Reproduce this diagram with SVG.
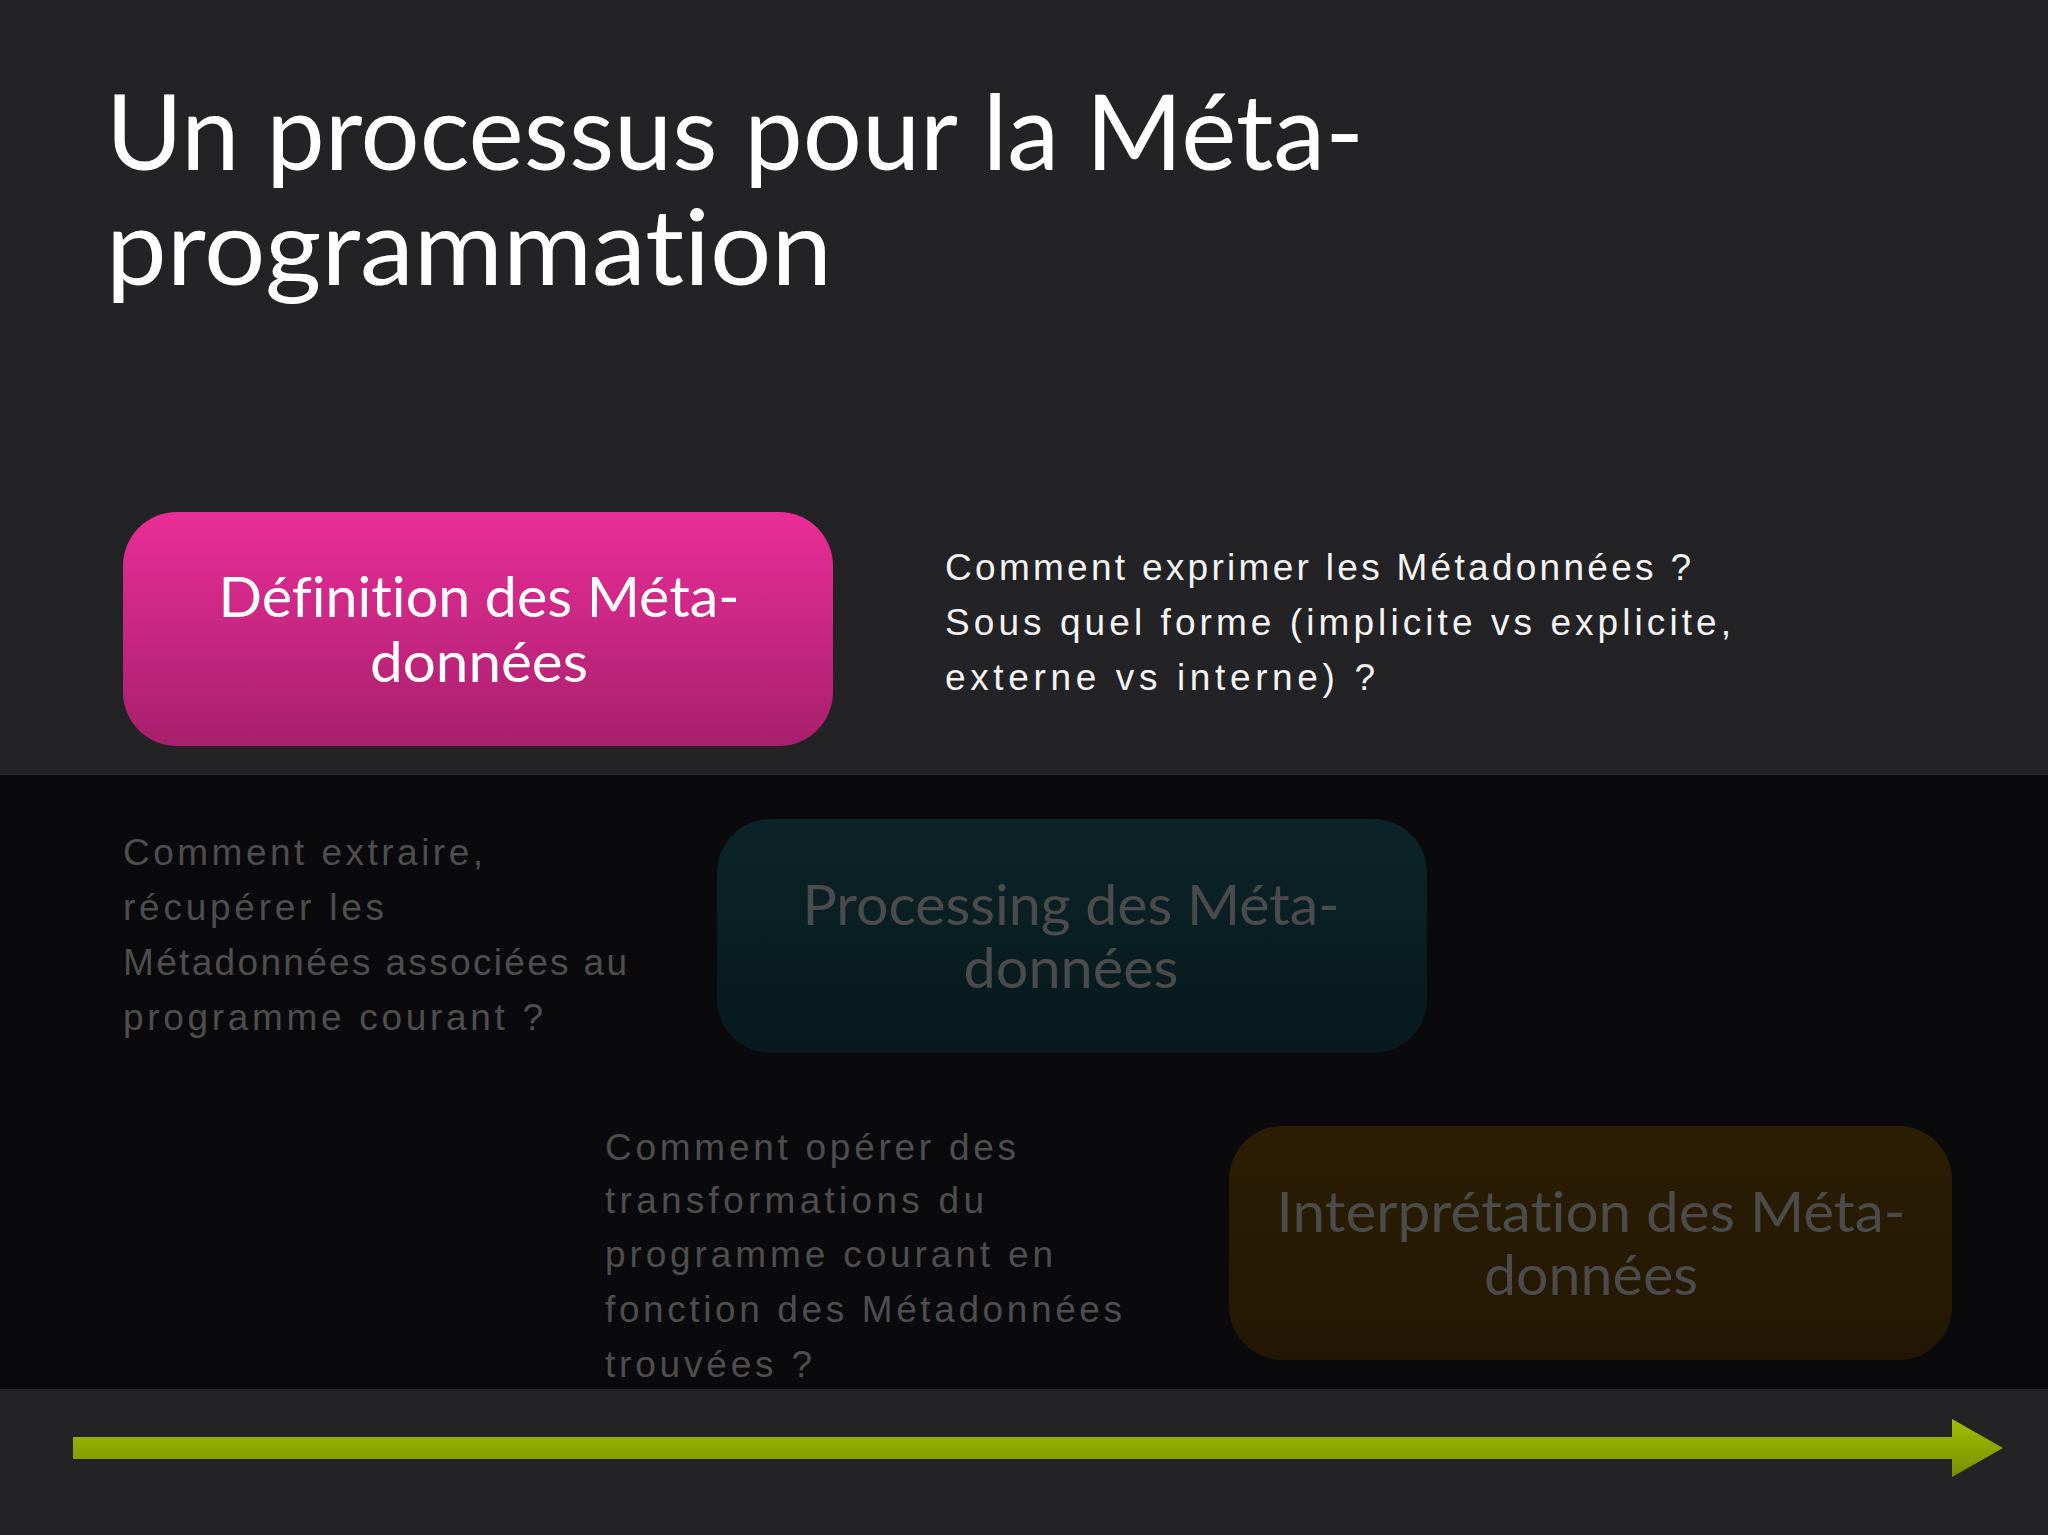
<svg xmlns="http://www.w3.org/2000/svg" width="2048" height="1535" viewBox="0 0 2048 1535">
<defs>
<linearGradient id="gPink" x1="0" y1="0" x2="0" y2="1">
<stop offset="0" stop-color="#e92e98"/>
<stop offset="1" stop-color="#a81f6c"/>
</linearGradient>
<linearGradient id="gTeal" x1="0" y1="0" x2="0" y2="1">
<stop offset="0" stop-color="#0c2428"/>
<stop offset="1" stop-color="#07191c"/>
</linearGradient>
<linearGradient id="gBrown" x1="0" y1="0" x2="0" y2="1">
<stop offset="0" stop-color="#2c1e04"/>
<stop offset="1" stop-color="#221703"/>
</linearGradient>
<linearGradient id="gGreen" x1="0" y1="0" x2="0" y2="1">
<stop offset="0" stop-color="#a0c000"/>
<stop offset="1" stop-color="#768e00"/>
</linearGradient>
<style>
text{font-variant-ligatures:none;font-feature-settings:"liga" 0,"clig" 0}
.title{font-family:Lato,"Open Sans",sans-serif;font-size:104px;fill:#ffffff}
.lbl{font-family:Lato,"Open Sans",sans-serif;font-size:56px;text-anchor:middle}
.lbl-on{fill:#ffffff}
.lbl-off{fill:#4b4b4b}
.hand{font-family:"Liberation Sans",Arial,sans-serif;font-size:37px}
.hand-on{fill:#f4f4f4}
.hand-off{fill:#4e4e4e}
</style>
</defs>
<rect x="0" y="0" width="2048" height="1535" fill="#232325"/>
<rect x="0" y="775" width="2048" height="614" fill="#0a0a0c"/>

<g id="title">
<text class="title" x="106" y="170" textLength="1258" lengthAdjust="spacingAndGlyphs">Un processus pour la Méta-</text>
<text class="title" x="106" y="285" textLength="726" lengthAdjust="spacingAndGlyphs">programmation</text>
</g>

<g id="node-definition">
<rect x="123" y="512" width="710" height="234" rx="54" ry="54" fill="url(#gPink)"/>
<text class="lbl lbl-on" x="479" y="617" textLength="521" lengthAdjust="spacingAndGlyphs">Définition des Méta-</text>
<text class="lbl lbl-on" x="479" y="682" textLength="218" lengthAdjust="spacingAndGlyphs">données</text>
</g>

<g id="note-definition">
<text class="hand hand-on" x="945" y="580" textLength="746" lengthAdjust="spacing">Comment exprimer les Métadonnées ?</text>
<text class="hand hand-on" x="945" y="635" textLength="786" lengthAdjust="spacing">Sous quel forme (implicite vs explicite,</text>
<text class="hand hand-on" x="945" y="690" textLength="430" lengthAdjust="spacing">externe vs interne) ?</text>
</g>

<g id="note-processing">
<text class="hand hand-off" x="123" y="865" textLength="360" lengthAdjust="spacing">Comment extraire,</text>
<text class="hand hand-off" x="123" y="920" textLength="261" lengthAdjust="spacing">récupérer les</text>
<text class="hand hand-off" x="123" y="975" textLength="504" lengthAdjust="spacing">Métadonnées associées au</text>
<text class="hand hand-off" x="123" y="1030" textLength="420" lengthAdjust="spacing">programme courant ?</text>
</g>

<g id="node-processing">
<rect x="717" y="819" width="710" height="234" rx="54" ry="54" fill="url(#gTeal)"/>
<text class="lbl lbl-off" x="1071" y="925" textLength="537" lengthAdjust="spacingAndGlyphs">Processing des Méta-</text>
<text class="lbl lbl-off" x="1071" y="988" textLength="215" lengthAdjust="spacingAndGlyphs">données</text>
</g>

<g id="note-interpretation">
<text class="hand hand-off" x="605" y="1160" textLength="411" lengthAdjust="spacing">Comment opérer des</text>
<text class="hand hand-off" x="605" y="1213" textLength="379" lengthAdjust="spacing">transformations du</text>
<text class="hand hand-off" x="605" y="1267" textLength="448" lengthAdjust="spacing">programme courant en</text>
<text class="hand hand-off" x="605" y="1322" textLength="517" lengthAdjust="spacing">fonction des Métadonnées</text>
<text class="hand hand-off" x="605" y="1377" textLength="207" lengthAdjust="spacing">trouvées ?</text>
</g>

<g id="node-interpretation">
<rect x="1229" y="1126" width="723" height="234" rx="54" ry="54" fill="url(#gBrown)"/>
<text class="lbl lbl-off" x="1591" y="1232" textLength="629" lengthAdjust="spacingAndGlyphs">Interprétation des Méta-</text>
<text class="lbl lbl-off" x="1591" y="1295" textLength="214" lengthAdjust="spacingAndGlyphs">données</text>
</g>

<g id="connectors">
<path d="M73,1437 H1952 V1419 L2003,1448 L1952,1477 V1459 H73 Z" fill="url(#gGreen)"/>
</g>
</svg>
